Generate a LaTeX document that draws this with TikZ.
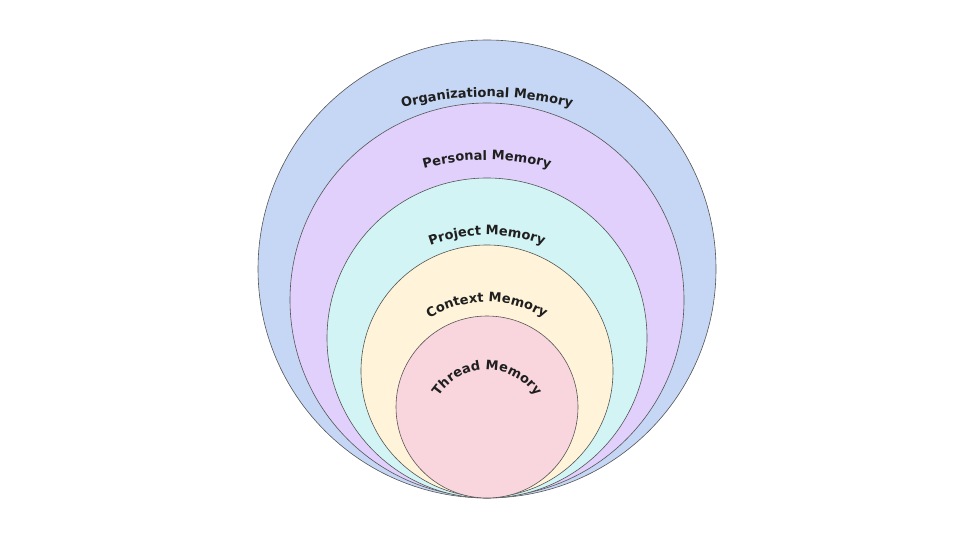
\documentclass[tikz,border=0pt]{standalone}
\usepackage{fontspec}
\newfontfamily\lbl{DejaVu Sans}
\usetikzlibrary{decorations.text}
\definecolor{cA}{HTML}{C5D7F5}
\definecolor{cB}{HTML}{E0D0FB}
\definecolor{cC}{HTML}{D2F4F4}
\definecolor{cD}{HTML}{FFF4D9}
\definecolor{cE}{HTML}{F9D5DD}
\definecolor{ln}{HTML}{555555}
\tikzset{ring/.style={draw=ln,line width=0.6pt},
 lab/.style={decorate,decoration={text along path,text align=center,
   text={|\lbl\bfseries\fontsize{13}{14}\selectfont\color{black!88}|#1}}}}
\newcommand\arclab[3]{% btop, R, text
 \path[lab={#3}] ({487-#2},{-(#1+#2)}) arc[start angle=180,end angle=0,radius=#2];}
\begin{document}
\begin{tikzpicture}[x=1pt,y=1pt]
\useasboundingbox (0,0) rectangle (960,-540);
\fill[white] (0,0) rectangle (960,-540);
\node[ring,fill=cA,circle,minimum size=458pt,inner sep=0] (o) at (487,-269) {};
\node[ring,fill=cB,circle,minimum size=394pt,inner sep=0] (p) at (487,-300) {};
\node[ring,fill=cC,circle,minimum size=320pt,inner sep=0] (j) at (487,-338) {};
\node[ring,fill=cD,circle,minimum size=252pt,inner sep=0] (c) at (487,-371) {};
\node[ring,fill=cE,circle,minimum size=182pt,inner sep=0] (t) at (487,-407) {};
\arclab{97}{330}{Organizational Memory}
\arclab{160}{240}{Personal Memory}
\arclab{235}{160}{Project Memory}
\arclab{302}{110}{Context Memory}
\arclab{370}{58}{Thread Memory}
\end{tikzpicture}
\end{document}
